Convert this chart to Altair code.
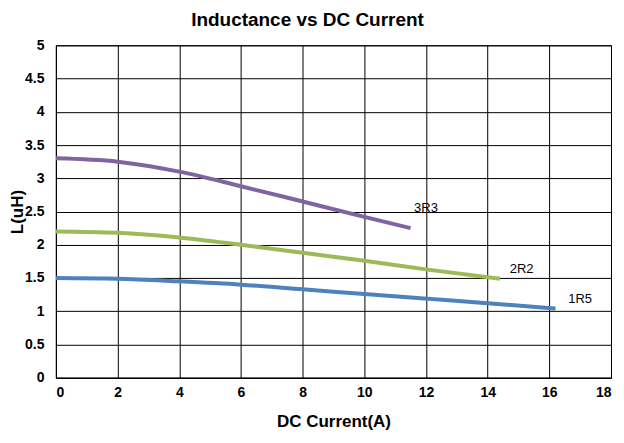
import altair as alt
import pandas as pd

x_3r3 = [0, 2, 4, 6, 8, 10, 11.5]
y_3r3 = [3.30, 3.25, 3.10, 2.88, 2.65, 2.42, 2.25]
x_2r2 = [0, 2, 4, 6, 8, 10, 12, 14.4]
y_2r2 = [2.20, 2.18, 2.11, 2.00, 1.88, 1.76, 1.63, 1.49]
x_1r5 = [0, 2, 4, 6, 8, 10, 12, 14, 16.2]
y_1r5 = [1.50, 1.49, 1.45, 1.40, 1.33, 1.26, 1.19, 1.12, 1.04]

series_names = ["3R3", "2R2", "1R5"]
series_colors = ["#8064A2", "#9BBB59", "#4F81BD"]
label_x = [12.0, 15.1, 17.0]
label_y = [2.55, 1.64, 1.19]
x_ticks = [0, 2, 4, 6, 8, 10, 12, 14, 16, 18]
y_ticks = [0, 0.5, 1, 1.5, 2, 2.5, 3, 3.5, 4, 4.5, 5]

rows = []
for name, xs, ys in zip(series_names, [x_3r3, x_2r2, x_1r5], [y_3r3, y_2r2, y_1r5]):
    for xv, yv in zip(xs, ys):
        rows.append({"series": name, "I": xv, "L": yv})
df = pd.DataFrame(rows)
lab = pd.DataFrame({"series": series_names, "I": label_x, "L": label_y})

FONT = "Liberation Sans"

x_enc = alt.X("I:Q", scale=alt.Scale(domain=[0, 18], nice=False), title="DC Current(A)",
              axis=alt.Axis(values=x_ticks, labelPadding=8, titlePadding=14,
                            labelOverlap=False))
y_enc = alt.Y("L:Q", scale=alt.Scale(domain=[0, 5], nice=False), title="L(uH)",
              axis=alt.Axis(values=y_ticks, format="~g", labelPadding=12, titlePadding=-2,
                            labelOverlap=False))
color = alt.Scale(domain=series_names, range=series_colors)

lines = alt.Chart(df).mark_line(strokeWidth=4, interpolate="monotone").encode(
    x=x_enc, y=y_enc,
    color=alt.Color("series:N", scale=color, legend=None),
    detail="series:N",
)

texts = alt.Chart(lab).mark_text(fontSize=13, font=FONT, color="black").encode(
    x=x_enc, y=y_enc, text="series:N"
)

chart = (lines + texts).properties(
    width=556, height=333,
    padding={"left": 0, "right": 5, "top": 3, "bottom": 5},
    title=alt.TitleParams("Inductance  vs DC Current", fontSize=19, font=FONT,
                          fontWeight="bold", color="black", offset=8, dx=-26),
).configure_view(stroke="black", strokeWidth=1).configure_axis(
    grid=True, gridColor="black", gridOpacity=1, gridWidth=1,
    domain=True, domainColor="black", ticks=False,
    labelFont=FONT, labelFontSize=14, labelFontWeight="bold", labelColor="black",
    titleFont=FONT, titleFontSize=17, titleFontWeight="bold", titleColor="black",
)

chart.save("out.html", embed_options={"renderer": "svg", "actions": False})
